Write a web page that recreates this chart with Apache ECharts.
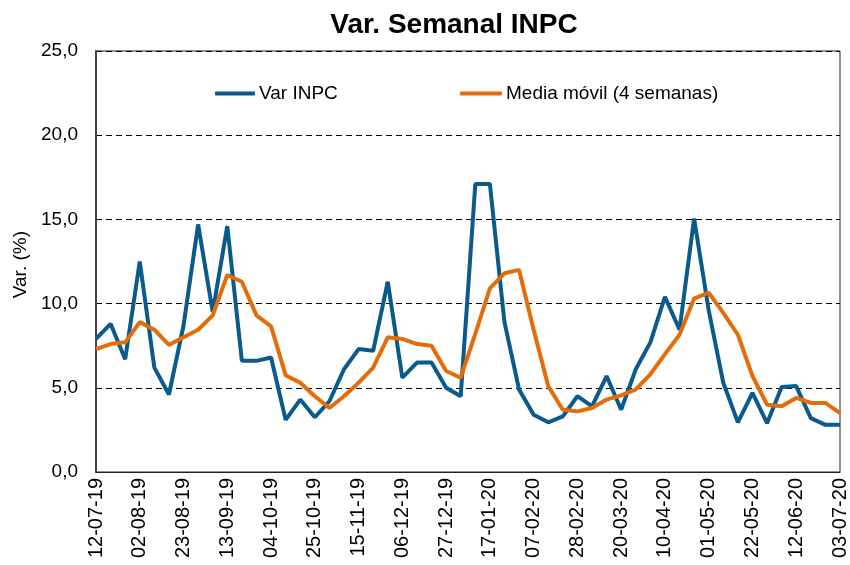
<!DOCTYPE html>
<html>
<head>
<meta charset="utf-8">
<script src="https://cdn.jsdelivr.net/npm/echarts@6/dist/echarts.min.js"></script>
<style>html,body{margin:0;padding:0;background:#fff}#c{width:850px;height:565px}</style>
</head>
<body>
<div id="c"></div>
<script>
var dates = ['12-07-19','19-07-19','26-07-19','02-08-19','09-08-19','16-08-19','23-08-19','30-08-19','06-09-19','13-09-19','20-09-19','27-09-19','04-10-19','11-10-19','18-10-19','25-10-19','01-11-19','08-11-19','15-11-19','22-11-19','29-11-19','06-12-19','13-12-19','20-12-19','27-12-19','03-01-20','10-01-20','17-01-20','24-01-20','31-01-20','07-02-20','14-02-20','21-02-20','28-02-20','06-03-20','13-03-20','20-03-20','27-03-20','03-04-20','10-04-20','17-04-20','24-04-20','01-05-20','08-05-20','15-05-20','22-05-20','29-05-20','05-06-20','12-06-20','19-06-20','26-06-20','03-07-20'];
var varINPC = [7.9,8.8,6.7,12.5,6.2,4.6,8.7,14.7,9.5,14.6,6.6,6.6,6.8,3.1,4.3,3.25,4.2,6.1,7.3,7.2,11.3,5.6,6.5,6.5,5.0,4.5,17.1,17.1,8.9,4.9,3.4,2.95,3.3,4.5,3.9,5.7,3.7,6.1,7.7,10.4,8.45,15.05,9.6,5.3,2.95,4.7,2.9,5.05,5.1,3.2,2.8,2.8];
var mediaMovil = [7.3,7.6,7.7,8.9,8.45,7.55,8.0,8.45,9.3,11.7,11.3,9.3,8.65,5.75,5.3,4.5,3.8,4.5,5.3,6.2,8.0,7.9,7.6,7.5,6.0,5.6,8.2,10.9,11.8,12.0,8.45,5.1,3.7,3.6,3.8,4.3,4.55,4.9,5.8,7.0,8.15,10.3,10.65,9.45,8.15,5.7,4.0,3.9,4.4,4.1,4.1,3.5];
var yTicks = [0,5,10,15,20,25];

var chart = echarts.init(document.getElementById('c'));
var font = 'Liberation Sans, Arial, sans-serif';
chart.setOption({
  animation: false,
  backgroundColor: '#fff',
  title: {
    text: 'Var. Semanal INPC', left: 449, top: 6, textAlign: 'center',
    textStyle: {fontFamily: font, fontWeight: 'bold', fontSize: 28, color: '#000'}
  },
  legend: [
    {data: ['Var INPC'], left: 215, top: 84, padding: 0, itemWidth: 40, itemHeight: 4, itemGap: 4,
     textStyle: {fontFamily: font, fontSize: 19, color: '#000', padding: [0,0,0,-1]}, icon: 'roundRect'},
    {data: ['Media móvil (4 semanas)'], left: 460, top: 84, padding: 0, itemWidth: 42, itemHeight: 4,
     textStyle: {fontFamily: font, fontSize: 19, color: '#000', padding: [0,0,0,-1]}, icon: 'roundRect'}
  ],
  grid: {left: 96, right: 9, top: 51, bottom: 93, show: true, borderColor: '#222', borderWidth: 1},
  xAxis: {
    type: 'category', data: dates, boundaryGap: false,
    axisLine: {lineStyle: {color: '#222', width: 1}},
    axisTick: {show: false},
    axisLabel: {interval: 2, rotate: 90, margin: 6, fontFamily: font, fontSize: 20, color: '#000'}
  },
  yAxis: {
    type: 'value', min: 0, max: 25, interval: 5,
    axisLine: {show: true, lineStyle: {color: '#444', width: 2}},
    axisTick: {show: false},
    axisLabel: {margin: 18, fontFamily: font, fontSize: 19, color: '#000',
      formatter: function (v) { return v.toFixed(1).replace('.', ','); }},
    splitLine: {lineStyle: {color: '#000', type: [6, 4], width: 1}}
  },
  graphic: [{
    type: 'text', left: 11, top: 231, rotation: Math.PI / 2,
    style: {text: 'Var. (%)', font: '19px ' + font, fill: '#000'}
  }],
  series: [
    {name: 'Var INPC', type: 'line', data: varINPC, symbol: 'none',
     lineStyle: {color: '#0A5A8C', width: 4}, itemStyle: {color: '#0A5A8C'}},
    {name: 'Media móvil (4 semanas)', type: 'line', data: mediaMovil, symbol: 'none',
     lineStyle: {color: '#E46C0A', width: 4}, itemStyle: {color: '#E46C0A'}}
  ]
});
</script>
</body>
</html>
